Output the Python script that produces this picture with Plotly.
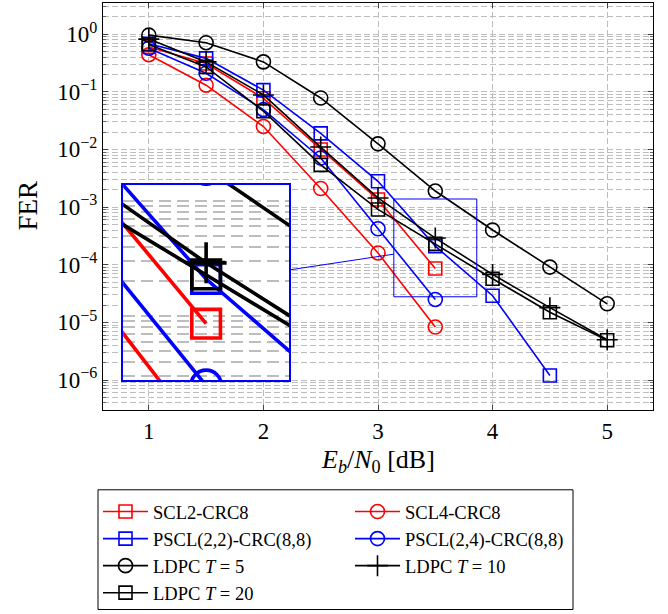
import plotly.graph_objects as go

# ---------------- data ----------------
ebn0 = [1, 1.5, 2, 2.5, 3, 3.5, 4, 4.5, 5]

scl2_crc8 = [0.60, 0.31, 0.077, 0.010, 1.35e-3, 8.6e-5]
scl4_crc8 = [0.44, 0.13, 0.025, 2.1e-3, 1.6e-4, 8.3e-6]
pscl22 = [0.68, 0.38, 0.107, 0.019, 2.8e-3, 2.1e-4, 2.9e-5, 1.2e-6]
pscl24 = [0.57, 0.21, 0.049, 7.1e-3, 4.2e-4, 2.5e-5]
ldpc_t5 = [0.96, 0.71, 0.33, 0.078, 0.0125, 1.9e-3, 4.0e-4, 9.1e-5, 2.1e-5]
ldpc_t10 = [0.82, 0.33, 0.088, 0.011, 1.44e-3, 2.9e-4, 6.8e-5, 1.8e-5, 5.0e-6]
ldpc_t20 = [0.66, 0.27, 0.046, 0.0054, 9.1e-4, 2.3e-4, 5.7e-5, 1.5e-5, 4.9e-6]

names = ["SCL2-CRC8", "SCL4-CRC8", "PSCL(2,2)-CRC(8,8)", "PSCL(2,4)-CRC(8,8)",
         "LDPC <i>T</i> = 5", "LDPC <i>T</i> = 10", "LDPC <i>T</i> = 20"]
values = [scl2_crc8, scl4_crc8, pscl22, pscl24, ldpc_t5, ldpc_t10, ldpc_t20]
colors = ["#ff0000", "#ff0000", "#0000ff", "#0000ff", "#000000", "#000000", "#000000"]
symbols = ["square-open", "circle-open", "square-open", "circle-open",
           "circle-open", "cross-thin", "square-open"]
legend_col = ["legend", "legend2", "legend", "legend2", "legend", "legend2", "legend"]

x_ticks = [1, 2, 3, 4, 5]
y_exponents = [0, -1, -2, -3, -4, -5, -6]

# ---------------- geometry ----------------
W, H = 668, 614
ML, MR, MT, MB = 103, 15, 3, 203
PW, PH = W - ML - MR, H - MT - MB
XR = [0.6, 5.4]
YR = [-6.52, 0.54]          # log10 range

# spy (zoom) settings
SPY_X, SPY_LY = 3.5, -3.708      # centre of zoomed region (x, log10 y)
SPY_W, SPY_H = 0.724, 1.696      # size of zoomed region (x units, decades)
MAG = 2
INS_X, INS_LY = 1.5, -4.308      # centre of the inset (main-axis coords)

FONT = "Liberation Serif"
GRID = "#bdbdbd"


def xp(x):
    return (x - XR[0]) / (XR[1] - XR[0])


def yp(ly):
    return (ly - YR[0]) / (YR[1] - YR[0])


def px_x(p):   # pixel -> paper x
    return (p - ML) / PW


def px_y(p):   # pixel -> paper y
    return (H - MB - p) / PH


ins_x0, ins_x1 = xp(INS_X - MAG * SPY_W / 2), xp(INS_X + MAG * SPY_W / 2)
ins_y0, ins_y1 = yp(INS_LY - MAG * SPY_H / 2), yp(INS_LY + MAG * SPY_H / 2)
spy_x0, spy_x1 = xp(SPY_X - SPY_W / 2), xp(SPY_X + SPY_W / 2)
spy_y0, spy_y1 = yp(SPY_LY - SPY_H / 2), yp(SPY_LY + SPY_H / 2)

fig = go.Figure()

sizes = {"square-open": 13, "circle-open": 14, "cross-thin": 15}
for nm, vals, col, sym, lg in zip(names, values, colors, symbols, legend_col):
    xs = ebn0[:len(vals)]
    fig.add_trace(go.Scatter(
        x=xs, y=vals, name=nm, mode="lines+markers", legend=lg,
        line=dict(color=col, width=1.6),
        marker=dict(symbol=sym, size=sizes[sym], color=col,
                    line=dict(color=col, width=1.6)),
        xaxis="x", yaxis="y"))
for nm, vals, col, sym in zip(names, values, colors, symbols):
    xs = ebn0[:len(vals)]
    fig.add_trace(go.Scatter(
        x=xs, y=vals, name=nm, mode="lines+markers", showlegend=False,
        line=dict(color=col, width=3.6),
        marker=dict(symbol=sym, size=sizes[sym] * (1.95 if sym == "cross-thin" else 2.2),
                    color=col, line=dict(color=col, width=3.6)),
        xaxis="x2", yaxis="y2"))

minor_vals = [m * 10 ** e for e in range(-7, 1) for m in range(2, 10)]

leg_common = dict(orientation="v", yanchor="top", xanchor="left",
                  bgcolor="rgba(0,0,0,0)", borderwidth=0, itemwidth=45,
                  font=dict(family=FONT, size=18.5), tracegroupgap=0)

fig.update_layout(
    width=W, height=H,
    margin=dict(l=ML, r=MR, t=MT, b=MB),
    paper_bgcolor="white", plot_bgcolor="white",
    font=dict(family=FONT, size=23, color="black"),
    showlegend=True,
    xaxis=dict(
        range=XR, tickvals=x_ticks, ticktext=[str(v) for v in x_ticks],
        showline=True, linecolor="black", linewidth=1.2, mirror="allticks",
        ticks="inside", ticklen=5, tickcolor="#444",
        showgrid=True, gridcolor=GRID, griddash="6px,3px", gridwidth=1,
        zeroline=False, tickfont=dict(size=23)),
    yaxis=dict(
        type="log", range=YR,
        tickvals=[10 ** e for e in y_exponents],
        ticktext=["10<sup>%s</sup>" % (str(e).replace("-", "\u2212")) for e in y_exponents],
        showline=True, linecolor="black", linewidth=1.2, mirror="allticks",
        ticks="inside", ticklen=5, tickcolor="#444",
        showgrid=True, gridcolor=GRID, griddash="6px,3px", gridwidth=1,
        minor=dict(tickvals=minor_vals, ticks="inside", ticklen=3, tickcolor="#666",
                   showgrid=True, gridcolor=GRID, griddash="6px,3px", gridwidth=1),
        zeroline=False, tickfont=dict(size=23)),
    xaxis2=dict(
        domain=[ins_x0, ins_x1], anchor="y2",
        range=[SPY_X - SPY_W / 2, SPY_X + SPY_W / 2],
        showticklabels=False, ticks="", showgrid=True, tickvals=x_ticks,
        gridcolor=GRID, griddash="12px,6px", gridwidth=2,
        showline=True, mirror=True, linecolor="#0000ff", linewidth=2, zeroline=False),
    yaxis2=dict(
        domain=[ins_y0, ins_y1], anchor="x2", type="log",
        range=[SPY_LY - SPY_H / 2, SPY_LY + SPY_H / 2],
        showticklabels=False, ticks="",
        tickvals=[10 ** e for e in y_exponents],
        showgrid=True, gridcolor=GRID, griddash="12px,6px", gridwidth=2,
        minor=dict(tickvals=minor_vals, showgrid=True, gridcolor=GRID,
                   griddash="12px,6px", gridwidth=2),
        showline=True, mirror=True, linecolor="#0000ff", linewidth=2, zeroline=False),
    legend=dict(x=px_x(98), y=px_y(493), **leg_common),
    legend2=dict(x=px_x(350), y=px_y(493), **leg_common),
)

# legend frame
fig.add_shape(type="rect", xref="paper", yref="paper",
              x0=px_x(98), x1=px_x(573), y0=px_y(611), y1=px_y(491),
              line=dict(color="black", width=1))

# spy rectangle and connector
cx1, cy1 = (ins_x0 + ins_x1) / 2, (ins_y0 + ins_y1) / 2
cx2, cy2 = (spy_x0 + spy_x1) / 2, (spy_y0 + spy_y1) / 2
t1 = (ins_x1 - cx1) / (cx2 - cx1)
t2 = (spy_x0 - cx1) / (cx2 - cx1)
fig.add_shape(type="rect", xref="paper", yref="paper",
              x0=spy_x0, x1=spy_x1, y0=spy_y0, y1=spy_y1,
              line=dict(color="#0000ff", width=1))
fig.add_shape(type="line", xref="paper", yref="paper",
              x0=cx1 + t1 * (cx2 - cx1), y0=cy1 + t1 * (cy2 - cy1),
              x1=cx1 + t2 * (cx2 - cx1), y1=cy1 + t2 * (cy2 - cy1),
              line=dict(color="#0000ff", width=1))

# axis titles
fig.add_annotation(text="FER", xref="paper", yref="paper",
                   x=px_x(28), y=px_y(206),
                   showarrow=False, textangle=-90, font=dict(size=27, family=FONT),
                   xanchor="center", yanchor="middle")
fig.add_annotation(text="<i>E</i><sub><i>b</i></sub>/<i>N</i><sub>0</sub> [dB]",
                   xref="paper", yref="paper", x=px_x(378), y=px_y(462),
                   showarrow=False, font=dict(size=26, family=FONT),
                   xanchor="center", yanchor="middle")

fig.write_html("out.html", config={"displayModeBar": False},
               post_script="document.body.style.margin='0px';")
